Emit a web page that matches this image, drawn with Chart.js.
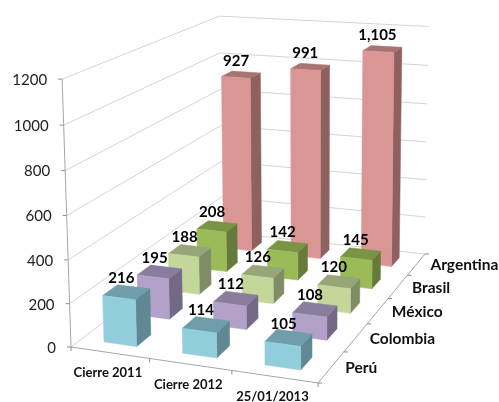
<!DOCTYPE html>
<html>
<head>
<meta charset="utf-8">
<script src="https://cdn.jsdelivr.net/npm/chart.js@4"></script>
<style>
  html, body { margin: 0; padding: 0; background: #fff; }
  canvas { display: block; }
</style>
</head>
<body>
<canvas id="chart" width="499" height="402"></canvas>
<script>
const periods = ["Cierre 2011", "Cierre 2012", "25/01/2013"];
const countries = ["Perú", "Colombia", "México", "Brasil", "Argentina"];
const peru = [216, 114, 105];
const colombia = [195, 112, 108];
const mexico = [188, 126, 120];
const brasil = [208, 142, 145];
const argentina = [927, 991, 1105];

const frontColors = ["#92CDDC", "#B1A0C7", "#C4D79B", "#9BBB59", "#DA9694"];
const topColors = ["#6F9DA9", "#8A7C9C", "#97A678", "#7A9446", "#A87472"];
const sideColors = ["#5F8794", "#736886", "#7F8C66", "#667B3B", "#8F6060"];

// where the corners of the 3d box land on the page, [u, v, w] is period, depth, value
const corners = {
  origin: [71, 347],
  frontRight: [318, 383],
  backLeft: [222, 232],
  backRight: [425, 254],
  topOrigin: [61, 75],
  topBackLeft: [220, 17],
  topBackRight: [429, 29]
};

// perspective matrix from the corners (unit square to quad, then the height column)
function buildCamera(c) {
  const [x0, y0] = c.origin, [x1, y1] = c.frontRight, [x2, y2] = c.backRight, [x3, y3] = c.backLeft;
  const dx1 = x1 - x2, dx2 = x3 - x2, sx = x0 - x1 + x2 - x3;
  const dy1 = y1 - y2, dy2 = y3 - y2, sy = y0 - y1 + y2 - y3;
  const den = dx1 * dy2 - dx2 * dy1;
  const g = (sx * dy2 - dx2 * sy) / den;
  const h = (dx1 * sy - sx * dy1) / den;
  const colU = [x1 - x0 + g * x1, y1 - y0 + g * y1, g];
  const colV = [x3 - x0 + h * x3, y3 - y0 + h * y3, h];

  // height column: try values of k and keep the one that best hits the three top corners
  const base = [
    [x0, y0, 1, c.topOrigin],
    [colV[0] + x0, colV[1] + y0, h + 1, c.topBackLeft],
    [colU[0] + colV[0] + x0, colU[1] + colV[1] + y0, g + h + 1, c.topBackRight]
  ];
  let colW = null, best = Infinity;
  for (let k = -0.6; k < 0.6; k += 0.002) {
    const a = base.reduce((s, b) => s + b[3][0] * (b[2] + k) - b[0], 0) / 3;
    const e = base.reduce((s, b) => s + b[3][1] * (b[2] + k) - b[1], 0) / 3;
    const err = base.reduce((s, b) => s + ((b[0] + a) / (b[2] + k) - b[3][0]) ** 2 + ((b[1] + e) / (b[2] + k) - b[3][1]) ** 2, 0);
    if (err < best) { best = err; colW = [a, e, k]; }
  }
  return (u, v, w) => {
    const d = colU[2] * u + colV[2] * v + colW[2] * w + 1;
    return [
      (colU[0] * u + colV[0] * v + colW[0] * w + x0) / d,
      (colU[1] * u + colV[1] * v + colW[1] * w + y0) / d
    ];
  };
}
const project = buildCamera(corners);

function poly(ctx, pts, fill) {
  ctx.beginPath();
  pts.forEach((p, i) => i ? ctx.lineTo(p[0], p[1]) : ctx.moveTo(p[0], p[1]));
  ctx.closePath();
  ctx.fillStyle = fill;
  ctx.strokeStyle = fill;
  ctx.lineWidth = 0.5;
  ctx.fill();
  ctx.stroke();
}

function line(ctx, a, b, color, width) {
  ctx.beginPath();
  ctx.moveTo(a[0], a[1]);
  ctx.lineTo(b[0], b[1]);
  ctx.strokeStyle = color;
  ctx.lineWidth = width;
  ctx.stroke();
}

const box3d = {
  id: "box3d",
  beforeDatasetsDraw(chart) {
    const ctx = chart.ctx;
    const {x: xScale, y: yScale, z: zScale} = chart.scales;
    const toU = px => (px - xScale.left) / xScale.width;
    const toW = px => (yScale.bottom - px) / yScale.height;
    const toV = px => (zScale.bottom - px) / zScale.height;
    const depthHalf = 0.42 / countries.length / 2;

    ctx.save();
    // walls and gridlines
    yScale.ticks.forEach(tick => {
      const w = toW(yScale.getPixelForValue(tick.value));
      line(ctx, project(0, 0, w), project(0, 1, w), "#d4d4d4", 1);
      line(ctx, project(0, 1, w), project(1, 1, w), "#d4d4d4", 1);
      const p = project(0, 0, w);
      line(ctx, [p[0] - 4, p[1]], p, "#8c8c8c", 1);
      ctx.fillStyle = "#222";
      ctx.font = "15px Lato";
      ctx.textAlign = "right";
      ctx.textBaseline = "middle";
      ctx.fillText(tick.value, p[0] - 15, p[1] + 1);
    });
    line(ctx, project(0, 0, 0), project(0, 0, 1), "#a6a6a6", 1);
    line(ctx, project(0, 0, 0), project(1, 0, 0), "#a6a6a6", 1);
    line(ctx, project(1, 0, 0), project(1, 1, 0), "#a6a6a6", 1);

    // axis ticks and their labels
    for (let i = 0; i <= periods.length; i++) {
      const p = project(i / periods.length, 0, 0);
      line(ctx, p, [p[0], p[1] + 4], "#8c8c8c", 1);
    }
    for (let j = 0; j <= countries.length; j++) {
      const p = project(1, j / countries.length, 0);
      line(ctx, p, [p[0] + 4, p[1]], "#8c8c8c", 1);
    }
    ctx.fillStyle = "#111";
    ctx.textBaseline = "middle";
    ctx.font = "bold 13px Lato";
    ctx.textAlign = "center";
    periods.forEach((label, i) => {
      const p = project(toU(xScale.getPixelForValue(i)), 0, 0);
      ctx.fillText(label, p[0] - 2, p[1] + 20);
    });
    ctx.font = "bold 15.5px Lato";
    ctx.textAlign = "left";
    countries.forEach((label, j) => {
      const p = project(1, toV(zScale.getPixelForValue(j)), 0);
      ctx.fillText(label, p[0] + 14, p[1] + 1);
    });

    // bars, back row first, each row from left to right
    for (let j = chart.data.datasets.length - 1; j >= 0; j--) {
      const v = toV(zScale.getPixelForValue(j));
      const v0 = v - depthHalf, v1 = v + depthHalf;
      chart.getDatasetMeta(j).data.forEach(bar => {
        const u0 = toU(bar.x - bar.width / 2), u1 = toU(bar.x + bar.width / 2);
        const w = toW(bar.y);
        poly(ctx, [project(u1, v0, 0), project(u1, v1, 0), project(u1, v1, w), project(u1, v0, w)], sideColors[j]);
        poly(ctx, [project(u0, v0, w), project(u1, v0, w), project(u1, v1, w), project(u0, v1, w)], topColors[j]);
        poly(ctx, [project(u0, v0, 0), project(u1, v0, 0), project(u1, v0, w), project(u0, v0, w)], frontColors[j]);
      });
    }

    // value labels sit on top of everything
    ctx.fillStyle = "#000";
    ctx.font = "bold 15px Lato";
    ctx.textAlign = "center";
    ctx.textBaseline = "middle";
    chart.data.datasets.forEach((set, j) => {
      const v = toV(zScale.getPixelForValue(j));
      chart.getDatasetMeta(j).data.forEach((bar, i) => {
        const p = project(toU(bar.x), v, toW(bar.y));
        ctx.fillText(set.data[i].toLocaleString("en-US"), p[0] - 5, p[1] - 14);
      });
    });
    ctx.restore();
    return false;
  }
};

new Chart(document.getElementById("chart"), {
  type: "bar",
  data: {
    labels: periods,
    datasets: [peru, colombia, mexico, brasil, argentina].map((values, j) => ({
      label: countries[j],
      data: values,
      backgroundColor: frontColors[j],
      grouped: false,
      categoryPercentage: 1,
      barPercentage: 0.42
    }))
  },
  options: {
    responsive: false,
    animation: false,
    layout: { padding: 0 },
    plugins: { legend: { display: false }, tooltip: { enabled: false } },
    scales: {
      x: { display: false },
      y: { display: false, min: 0, max: 1200, ticks: { stepSize: 200 } },
      z: { display: false, type: "category", axis: "y", labels: countries, reverse: true, offset: true }
    }
  },
  plugins: [box3d]
});
</script>
</body>
</html>
